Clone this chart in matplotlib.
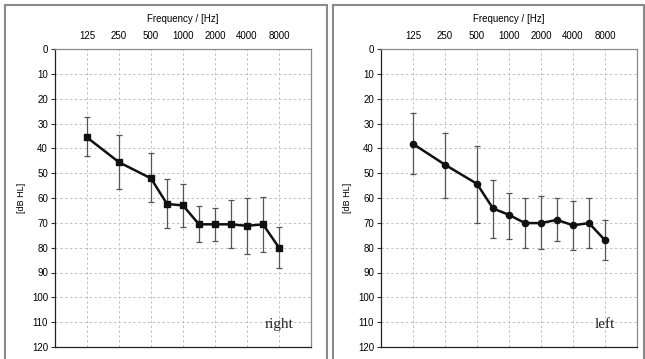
import numpy as np
import matplotlib.pyplot as plt
from matplotlib.patches import Rectangle

# frequencies measured, and their place on the octave axis (intermediate ones sit midway)
freqs = [125, 250, 500, 750, 1000, 1500, 2000, 3000, 4000, 6000, 8000]
xpos = [0, 1, 2, 2.5, 3, 3.5, 4, 4.5, 5, 5.5, 6]
tick_labels = ['125', '250', '500', '1000', '2000', '4000', '8000']

# right ear: mean and error bar ends [dB HL]
right_mean = [35.6, 45.6, 52.1, 62.4, 63.0, 70.6, 70.6, 70.6, 71.2, 70.6, 80.0]
right_top = [27.5, 34.6, 41.8, 52.4, 54.2, 63.2, 63.9, 60.7, 59.9, 59.5, 71.6]
right_bot = [43.0, 56.3, 61.6, 72.2, 71.8, 77.9, 77.3, 80.3, 82.7, 81.9, 88.0]

# left ear
left_mean = [38.2, 46.6, 54.3, 64.2, 66.8, 70.1, 70.1, 68.8, 71.0, 70.1, 77.0]
left_top = [25.9, 33.9, 39.2, 52.7, 57.9, 59.9, 59.1, 59.9, 61.1, 59.9, 68.8]
left_bot = [50.3, 59.9, 70.0, 76.0, 76.4, 80.0, 80.7, 77.5, 81.1, 80.0, 84.8]

plt.rcParams['font.family'] = ['Liberation Sans', 'DejaVu Sans']

fig = plt.figure(figsize=(6.45, 3.59), dpi=100)

# outer frames around each panel
for x0, x1 in [(5, 327), (333, 644)]:
    fig.patches.append(Rectangle((x0 / 645, -0.05), (x1 - x0) / 645, 1.05 - 5 / 359,
                                 transform=fig.transFigure, fill=False,
                                 edgecolor='#8a8a8a', lw=1.5))


def panel(left, mean, top, bot, marker, name):
    ax = fig.add_axes([left / 645, 1 - 347 / 359, 256 / 645, 298 / 359])
    mean = np.array(mean)
    yerr = [mean - np.array(top), np.array(bot) - mean]
    ax.errorbar(xpos, mean, yerr=yerr, fmt='none', ecolor='#555555',
                elinewidth=0.9, capsize=2, capthick=0.9, zorder=2)
    ax.plot(xpos, mean, color='#111111', lw=1.8, marker=marker, ms=4.5,
            zorder=3)

    ax.set_xlim(-1, 7)
    ax.set_ylim(120, 0)
    ax.set_yticks(np.arange(0, 121, 10))
    ax.set_xticks(range(7))
    ax.set_xticklabels(tick_labels)
    ax.xaxis.tick_top()
    ax.xaxis.set_label_position('top')
    ax.tick_params(axis='x', length=0, pad=6, labelsize=7)
    ax.tick_params(axis='y', length=3, width=0.8, color='#333333',
                   labelsize=7, pad=2)
    ax.set_xlabel('Frequency / [Hz]', fontsize=7, labelpad=6)
    ax.set_ylabel('[dB HL]', fontsize=6.5, labelpad=4)

    ax.grid(True, ls=(0, (2.5, 2.5)), color='#c0c0c0', lw=0.7)
    for s in ['top', 'right']:
        ax.spines[s].set_color('#8a8a8a')
    for s in ['left', 'bottom']:
        ax.spines[s].set_color('#222222')
    for s in ax.spines.values():
        s.set_linewidth(0.9)

    ax.text(6.0, 111, name, fontsize=11, family='Liberation Serif',
            ha='center', va='center', color='#222222')


panel(55, right_mean, right_top, right_bot, 's', 'right')
panel(381, left_mean, left_top, left_bot, 'o', 'left')

fig.savefig('out.png', dpi=100)
